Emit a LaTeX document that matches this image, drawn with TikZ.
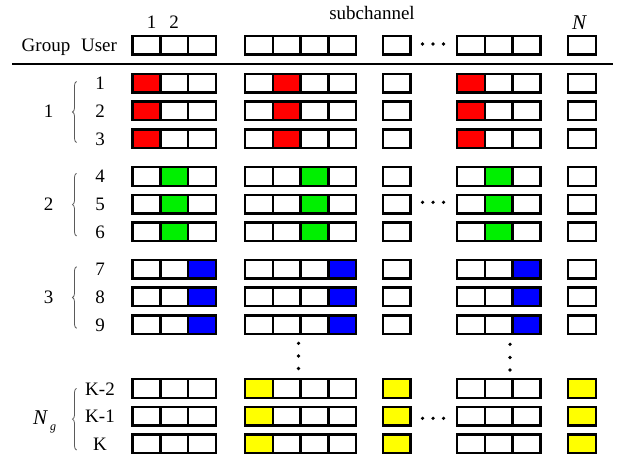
\documentclass[tikz,border=0pt]{standalone}
\usepackage{fontspec}
\setmainfont{Liberation Serif}
\usetikzlibrary{decorations.pathreplacing}
\definecolor{cred}{RGB}{255,0,0}
\definecolor{cgreen}{RGB}{0,240,0}
\definecolor{cblue}{RGB}{0,0,255}
\definecolor{cyellow}{RGB}{255,255,0}
\definecolor{bracegray}{RGB}{90,90,90}
\begin{document}
\begin{tikzpicture}[x=1pt,y=-1pt,
  cell/.style={draw=black, line width=2.4pt, minimum width=27.8pt, minimum height=18.5pt,
               inner sep=0pt, outer sep=0pt},
  lbl/.style={font=\fontsize{19}{22}\selectfont, inner sep=0pt, anchor=base},
  grpbrace/.style={decorate, decoration={brace, amplitude=4pt}, draw=bracegray, line width=0.8pt},
  dotmark/.style={circle, fill=black, inner sep=0pt, minimum size=3.6pt}
]
\useasboundingbox (0,0) rectangle (620,454);

% header texts
\node[lbl] (subch) at (372,19.5) {subchannel};
\node[lbl] (one) at (151.5,28.3) {1};
\node[lbl] (two) at (174,28.3) {2};
\node[lbl, font=\fontsize{21}{22}\selectfont\itshape] (nlast) at (579,30) {N};
\node[lbl] (group) at (46,51.5) {Group};
\node[lbl] (user) at (99,51.5) {User};

% separating rule
\coordinate (ruleL) at (12,64);
\coordinate (ruleR) at (613,64);
\draw[line width=1.6pt] (ruleL) -- (ruleR);

% rows of subchannel cells: name / centre y / highlighted cells / colour
\foreach \rn/\y/\a/\b/\c/\col in {
    h/45.2/0/0/0/white,
    u1/83.2/1/5/9/cred, u2/110.9/1/5/9/cred, u3/138.6/1/5/9/cred,
    u4/176.5/2/6/10/cgreen, u5/204.2/2/6/10/cgreen, u6/231.9/2/6/10/cgreen,
    u7/269.2/3/7/11/cblue, u8/296.9/3/7/11/cblue, u9/324.6/3/7/11/cblue,
    uK2/388.5/4/8/12/cyellow, uK1/416.2/4/8/12/cyellow, uK/443.9/4/8/12/cyellow}{
  \foreach \i/\x in {1/146.4,2/174.2,3/202.0,
                     4/258.9,5/286.7,6/314.5,7/342.3,
                     8/396.6,
                     9/470.9,10/498.7,11/526.5,
                     12/581.9}{
    \pgfmathtruncatemacro\hit{(\i==\a)||(\i==\b)||(\i==\c)}
    \ifnum\hit=1 \def\fc{\col}\else\def\fc{white}\fi
    \node[cell, fill=\fc] (\rn-\i) at (\x,\y) {};
  }
}

% user indices
\foreach \rn/\y/\t in {u1/83.2/1, u2/110.9/2, u3/138.6/3,
                       u4/176.5/4, u5/204.2/5, u6/231.9/6,
                       u7/269.2/7, u8/296.9/8, u9/324.6/9,
                       uK2/388.5/K-2, uK1/416.2/K-1, uK/443.9/K}{
  \node[lbl] (lab-\rn) at (100,\y+6.5) {\t};
}

% group indices
\node[lbl] (g1) at (48.5,117.4) {1};
\node[lbl] (g2) at (48.5,210.7) {2};
\node[lbl] (g3) at (48.5,303.4) {3};
\node[lbl, anchor=base west] (gN) at (33,424)
  {\fontsize{21}{22}\selectfont\itshape N\hspace{3pt}\raisebox{-6pt}{\fontsize{12}{12}\selectfont g}};

% braces
\foreach \k/\top/\bot in {1/81.5/142.5, 2/173.3/236, 3/266.7/328.3, 4/388.3/450}{
  \coordinate (bt\k) at (76.5,\top);
  \coordinate (bb\k) at (76.5,\bot);
  \draw[grpbrace] (bb\k) -- (bt\k);
}

% horizontal ellipses
\foreach \y/\n in {44/a, 202.3/b, 418.3/c}{
  \node[dotmark] (h\n1) at (422.5,\y) {};
  \node[dotmark] (h\n2) at (433,\y) {};
  \node[dotmark] (h\n3) at (443.5,\y) {};
}

% vertical ellipses
\node[dotmark] (va1) at (298.5,343.3) {};
\node[dotmark] (va2) at (298.5,356) {};
\node[dotmark] (va3) at (298.5,368.5) {};
\node[dotmark] (vb1) at (510,344.3) {};
\node[dotmark] (vb2) at (510,357.5) {};
\node[dotmark] (vb3) at (510,370) {};
\end{tikzpicture}
\end{document}
